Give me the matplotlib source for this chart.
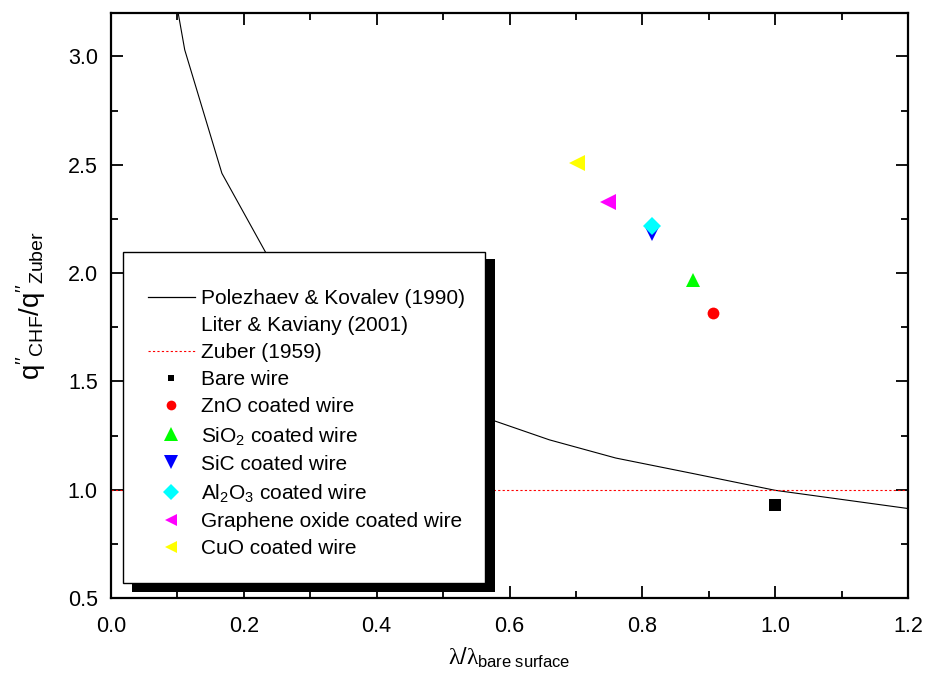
import matplotlib
matplotlib.use("Agg")
import matplotlib.pyplot as plt
from matplotlib.lines import Line2D
from matplotlib.patches import Rectangle

plt.rcParams['font.family'] = ['Liberation Sans', 'DejaVu Sans']
plt.rcParams['mathtext.fontset'] = 'custom'
plt.rcParams['mathtext.rm'] = 'Liberation Sans'
plt.rcParams['mathtext.it'] = 'Liberation Serif'

# Polezhaev & Kovalev (1990) curve
pk_x = [0.100, 0.111, 0.167, 0.25, 0.333, 0.5, 0.575, 0.66, 0.76, 0.877, 1.0, 1.2]
pk_y = [3.22, 3.03, 2.46, 2.00, 1.73, 1.41, 1.32, 1.23, 1.146, 1.074, 0.997, 0.913]

# Zuber (1959)
zuber_x = [0.0, 1.2]
zuber_y = [1.0, 1.0]

# Experimental points
labels = ['Bare wire', 'ZnO coated wire', r'SiO$_{\mathrm{2}}$ coated wire',
          'SiC coated wire', r'Al$_{\mathrm{2}}$O$_{\mathrm{3}}$ coated wire',
          'Graphene oxide coated wire', 'CuO coated wire']
pt_x = [1.0, 0.907, 0.877, 0.815, 0.815, 0.749, 0.701]
pt_y = [0.93, 1.815, 1.968, 2.178, 2.218, 2.326, 2.51]
markers = ['s', 'o', '^', 'v', 'D', '<', '<']
colors = ['black', 'red', '#00ff00', 'blue', 'cyan', 'magenta', 'yellow']
sizes = [8, 8.5, 10, 10, 9, 11, 11]
leg_sizes = [5, 7, 9.5, 9.5, 8, 9, 9]

fig = plt.figure(figsize=(9.31, 6.83), dpi=100)
ax = fig.add_axes([111/931, (683-598)/683, 797/931, 585/683])

ax.plot(pk_x, pk_y, color='black', lw=0.8, zorder=2)
ax.plot(zuber_x, zuber_y, color='red', lw=0.8, linestyle=(0, (2, 2)), zorder=2)
for x, y, m, c, s in zip(pt_x, pt_y, markers, colors, sizes):
    ax.plot([x], [y], linestyle='none', marker=m, color=c, markersize=s,
            markeredgewidth=0, zorder=3)

ax.set_xlim(0.0, 1.2)
ax.set_ylim(0.5, 3.2)
ax.set_xticks([0.0, 0.2, 0.4, 0.6, 0.8, 1.0, 1.2])
ax.set_xticks([0.1, 0.3, 0.5, 0.7, 0.9, 1.1], minor=True)
ax.set_yticks([0.5, 1.0, 1.5, 2.0, 2.5, 3.0])
ax.set_yticks([0.75, 1.25, 1.75, 2.25, 2.75], minor=True)
ax.xaxis.set_major_formatter(matplotlib.ticker.FormatStrFormatter('%.1f'))
ax.yaxis.set_major_formatter(matplotlib.ticker.FormatStrFormatter('%.1f'))
ax.tick_params(which='both', direction='in', top=True, right=True, labelsize=15.5, width=1.3)
ax.tick_params(which='major', length=8.5)
ax.tick_params(which='minor', length=5)
ax.tick_params(axis='x', which='major', pad=13)
ax.tick_params(axis='y', which='major', pad=9.5)
for sp in ax.spines.values():
    sp.set_linewidth(1.6)

ax.set_xlabel(r'$\lambda/\lambda_{\mathrm{bare\ surface}}$', fontsize=17, labelpad=6)
ax.set_ylabel(r"$\mathrm{q''}_{\mathrm{CHF}}\mathrm{/q''}_{\mathrm{Zuber}}$", fontsize=20, labelpad=14)

# legend box with solid shadow
ax.add_patch(Rectangle(((132-111)/797, (598-592)/585), (495-132)/797, (592-259)/585,
                       transform=ax.transAxes, facecolor='black', edgecolor='none',
                       zorder=4, clip_on=False))
ax.add_patch(Rectangle(((123-111)/797, (598-583)/585), (485-123)/797, (583-252)/585,
                       transform=ax.transAxes, facecolor='white', edgecolor='black',
                       linewidth=1.0, zorder=4.1, clip_on=False))

handles = [Line2D([], [], color='black', lw=0.9),
           Line2D([], [], color='none', lw=0.9),
           Line2D([], [], color='red', lw=0.8, linestyle=(0, (2, 2)))]
for m, c, s in zip(markers, colors, leg_sizes):
    handles.append(Line2D([], [], linestyle='none', marker=m, color=c,
                          markersize=s, markeredgewidth=0))
leg_labels = ['Polezhaev & Kovalev (1990)', 'Liter & Kaviany (2001)', 'Zuber (1959)'] + labels
leg = ax.legend(handles, leg_labels, loc='upper left',
                bbox_to_anchor=((148-111)/797, (598-289)/585),
                frameon=False, borderpad=0, borderaxespad=0, fontsize=15,
                handlelength=2.25, handletextpad=0.28, labelspacing=0.39)
leg.set_zorder(5)

fig.savefig('out.png', dpi=100)
